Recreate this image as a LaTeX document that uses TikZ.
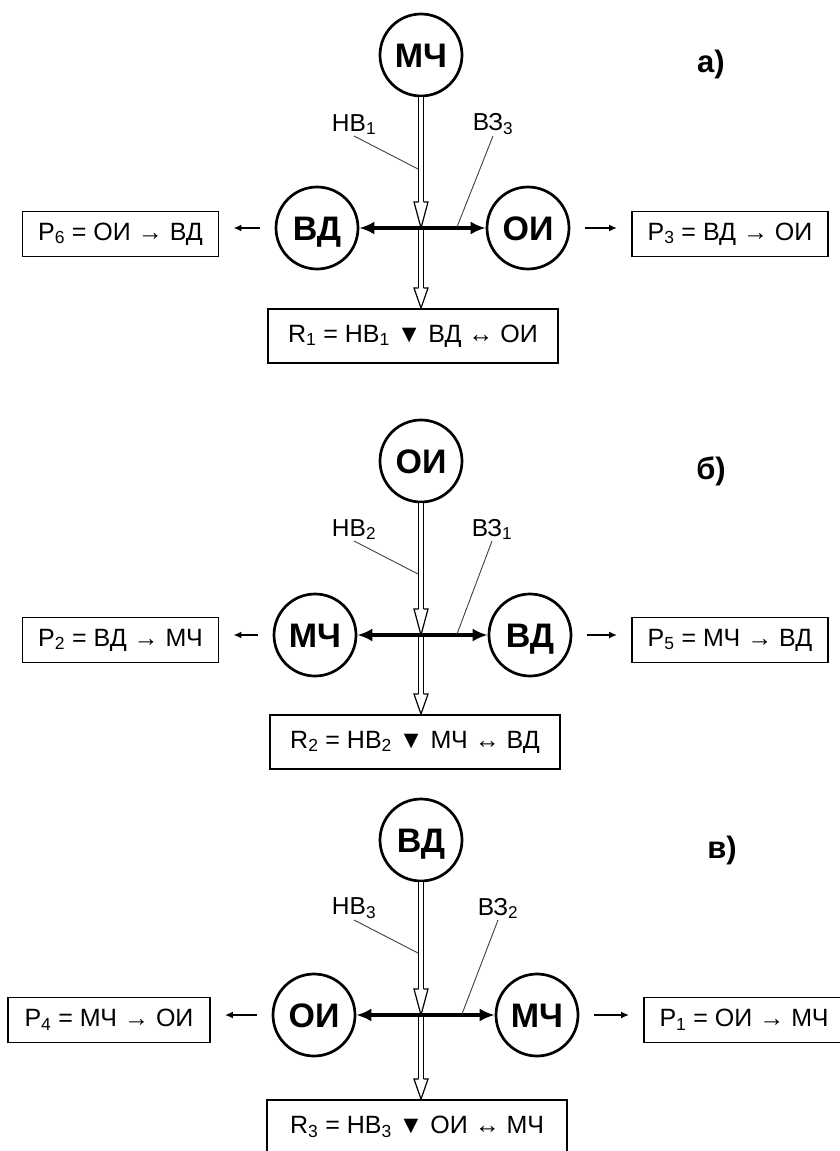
\documentclass[tikz,border=0pt]{standalone}
\usepackage{fontspec}
\setmainfont{Liberation Sans}
\usetikzlibrary{arrows.meta,calc}

% small lowered index digits
\newcommand\idx[1]{\textsubscript{#1}}
% open arrow head for the double shaft: tip at #1, length #2
\newcommand\openhead[2]{%
  \filldraw[head] ($(#1)+(-2.5,-#2)$) -- ++(-4.5,0) -- (#1)
    -- ($(#1)+(7,-#2)$) -- ++(-4.5,0);}

\begin{document}
\begin{tikzpicture}[x=1pt,y=-1pt,
  circ/.style={circle, draw, line width=2.7pt, minimum size=82pt, inner sep=0pt,
    text height=24.3pt, text depth=0pt,
    font=\fontsize{34}{34}\selectfont\bfseries},
  pbox/.style={draw, line width=1.9pt, minimum width=196pt, minimum height=45pt,
    inner sep=0pt, font=\fontsize{25}{25}\selectfont},
  rbox/.style={pbox, minimum width=290pt, minimum height=54pt},
  tag/.style={font=\fontsize{24.5}{24.5}\selectfont, inner sep=1pt, anchor=south},
  letter/.style={font=\fontsize{31}{31}\selectfont\bfseries},
  shaft/.style={draw, line width=1.2pt, double=white, double distance=3.8pt},
  head/.style={draw=black, fill=white, line width=1.2pt, line join=miter},
  link/.style={line width=3.5pt, {Latex[length=15pt,width=13pt]}-{Latex[length=15pt,width=13pt]}},
  side/.style={line width=1.6pt, -{Latex[length=8pt,width=7pt]}, shorten <=15pt, shorten >=14pt},
  leader/.style={line width=0.9pt, black!75},
]
\useasboundingbox (0,0) rectangle (839,1151);

% ---------------- panel a) ----------------
\node[circ] (a-top) at (421,55) {МЧ};
\node[circ] (a-l) at (317,228) {ВД};
\node[circ] (a-r) at (528,228) {ОИ};
\node[pbox] (a-pl) at (120.5,234) {P\idx{6} = ОИ → ВД};
\node[pbox] (a-pr) at (730,234) {P\idx{3} = ВД → ОИ};
\node[rbox] (a-res) at (413,336) {R\idx{1} = НВ\idx{1} ▼ ВД ↔ ОИ};
\node[letter] (a-tag) at (711,64) {а)};
\node[tag] (a-nv) at (354,136) {НВ\idx{1}};
\node[tag] (a-vz) at (493,136) {ВЗ\idx{3}};
\coordinate (a-x) at (a-top |- a-l);
\coordinate (a-in) at (a-top |- a-res.north);
\coordinate (a-nvend) at (418,169);
\coordinate (a-vzend) at (457,227);

\draw[shaft] (a-top.south) -- ($(a-x)+(0,-26)$);
\openhead{a-x}{26}
\draw[shaft] (a-x) -- ($(a-in)+(0,-20)$);
\openhead{a-in}{20}
\draw[link] (a-l) -- (a-r);
\draw[side] (a-l.west) -- (a-l.west -| a-pl.east);
\draw[side] (a-r.east) -- (a-r.east -| a-pr.west);
\draw[leader] (a-nv.south) -- (a-nvend);
\draw[leader] (a-vz.south) -- (a-vzend);

% ---------------- panel b) ----------------
\node[circ] (b-top) at (421,461) {ОИ};
\node[circ] (b-l) at (315,635) {МЧ};
\node[circ] (b-r) at (530,635) {ВД};
\node[pbox] (b-pl) at (120.5,640) {P\idx{2} = ВД → МЧ};
\node[pbox] (b-pr) at (730,640) {P\idx{5} = МЧ → ВД};
\node[rbox] (b-res) at (415,742) {R\idx{2} = НВ\idx{2} ▼ МЧ ↔ ВД};
\node[letter] (b-tag) at (711,471) {б)};
\node[tag] (b-nv) at (354,541) {НВ\idx{2}};
\node[tag] (b-vz) at (492,541) {ВЗ\idx{1}};
\coordinate (b-x) at (b-top |- b-l);
\coordinate (b-in) at (b-top |- b-res.north);
\coordinate (b-nvend) at (418,574);
\coordinate (b-vzend) at (457,634);

\draw[shaft] (b-top.south) -- ($(b-x)+(0,-26)$);
\openhead{b-x}{26}
\draw[shaft] (b-x) -- ($(b-in)+(0,-20)$);
\openhead{b-in}{20}
\draw[link] (b-l) -- (b-r);
\draw[side] (b-l.west) -- (b-l.west -| b-pl.east);
\draw[side] (b-r.east) -- (b-r.east -| b-pr.west);
\draw[leader] (b-nv.south) -- (b-nvend);
\draw[leader] (b-vz.south) -- (b-vzend);

% ---------------- panel c) ----------------
\node[circ] (c-top) at (421,840) {ВД};
\node[circ] (c-l) at (314,1015) {ОИ};
\node[circ] (c-r) at (537,1015) {МЧ};
\node[pbox, minimum width=202pt] (c-pl) at (109,1020) {P\idx{4} = МЧ → ОИ};
\node[pbox, minimum width=200pt] (c-pr) at (744,1020) {P\idx{1} = ОИ → МЧ};
\node[rbox, minimum width=300pt] (c-res) at (417,1127) {R\idx{3} = НВ\idx{3} ▼ ОИ ↔ МЧ};
\node[letter] (c-tag) at (722,850) {в)};
\node[tag] (c-nv) at (354,920) {НВ\idx{3}};
\node[tag] (c-vz) at (498,920) {ВЗ\idx{2}};
\coordinate (c-x) at (c-top |- c-l);
\coordinate (c-in) at (c-top |- c-res.north);
\coordinate (c-nvend) at (418,953);
\coordinate (c-vzend) at (462,1014);

\draw[shaft] (c-top.south) -- ($(c-x)+(0,-26)$);
\openhead{c-x}{26}
\draw[shaft] (c-x) -- ($(c-in)+(0,-20)$);
\openhead{c-in}{20}
\draw[link] (c-l) -- (c-r);
\draw[side] (c-l.west) -- (c-l.west -| c-pl.east);
\draw[side] (c-r.east) -- (c-r.east -| c-pr.west);
\draw[leader] (c-nv.south) -- (c-nvend);
\draw[leader] (c-vz.south) -- (c-vzend);
\end{tikzpicture}
\end{document}
